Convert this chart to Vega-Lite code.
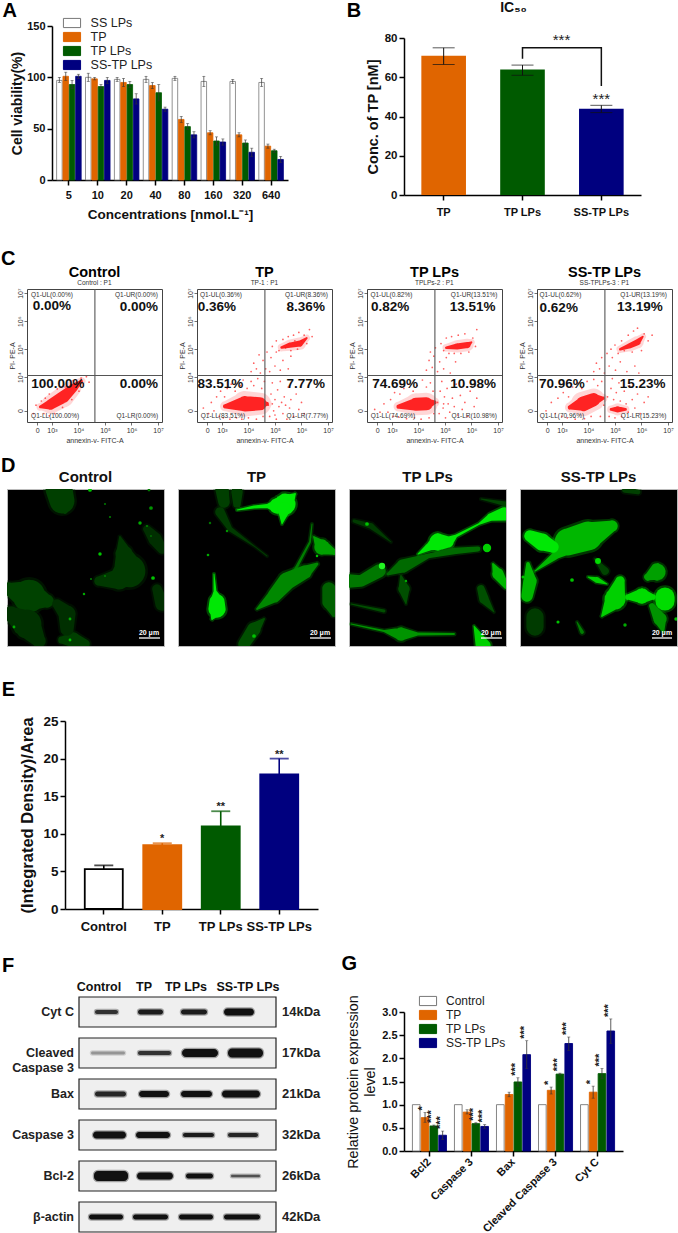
{
"$schema":"https://vega.github.io/schema/vega-lite/v6.json",
"padding":{"left":0,"top":1,"right":0,"bottom":0},
"resolve":{"scale":{"fill":"independent","stroke":"independent","color":"independent","size":"independent","opacity":"independent","xOffset":"independent"},"legend":{"fill":"independent","stroke":"independent","color":"independent","size":"independent"}},
"config":{"font":"Liberation Sans","view":{"stroke":null},"concat":{"spacing":0},
"axis":{"grid":false,"labelOverlap":false,"tickCount":12,"labelFont":"Liberation Sans","titleFont":"Liberation Sans","labelFontWeight":"bold","titleFontWeight":"bold","domainColor":"#000","tickColor":"#000","labelColor":"#111","titleColor":"#111","domainWidth":1.5,"tickWidth":1.5,"tickSize":5,"labelAngle":0}},
"datasets":{
"a":[
{"c":"5","g":"SS LPs","m":97,"l":95,"h":100},{"c":"5","g":"TP","m":101,"l":97,"h":105},{"c":"5","g":"TP LPs","m":93,"l":89,"h":97},{"c":"5","g":"SS-TP LPs","m":101,"l":99,"h":103},
{"c":"10","g":"SS LPs","m":100,"l":96,"h":104},{"c":"10","g":"TP","m":98.5,"l":97.5,"h":100},{"c":"10","g":"TP LPs","m":91,"l":89,"h":93},{"c":"10","g":"SS-TP LPs","m":97,"l":94,"h":100},
{"c":"20","g":"SS LPs","m":98,"l":96,"h":100},{"c":"20","g":"TP","m":95,"l":91,"h":99},{"c":"20","g":"TP LPs","m":93,"l":90,"h":96},{"c":"20","g":"SS-TP LPs","m":79,"l":74,"h":84},
{"c":"40","g":"SS LPs","m":98,"l":95,"h":101},{"c":"40","g":"TP","m":92,"l":89,"h":95},{"c":"40","g":"TP LPs","m":85,"l":77,"h":93},{"c":"40","g":"SS-TP LPs","m":69,"l":67,"h":71},
{"c":"80","g":"SS LPs","m":99,"l":97,"h":101},{"c":"80","g":"TP","m":59,"l":56,"h":62},{"c":"80","g":"TP LPs","m":52,"l":49,"h":55},{"c":"80","g":"SS-TP LPs","m":44,"l":41,"h":47},
{"c":"160","g":"SS LPs","m":96,"l":91,"h":101},{"c":"160","g":"TP","m":46,"l":44,"h":48},{"c":"160","g":"TP LPs","m":38,"l":34,"h":42},{"c":"160","g":"SS-TP LPs","m":37,"l":34,"h":40},
{"c":"320","g":"SS LPs","m":96,"l":94,"h":98},{"c":"320","g":"TP","m":44,"l":42,"h":46},{"c":"320","g":"TP LPs","m":36,"l":33,"h":39},{"c":"320","g":"SS-TP LPs","m":27,"l":23,"h":31},
{"c":"640","g":"SS LPs","m":95,"l":91,"h":99},{"c":"640","g":"TP","m":33,"l":31,"h":35},{"c":"640","g":"TP LPs","m":28.5,"l":27,"h":30},{"c":"640","g":"SS-TP LPs","m":20,"l":17,"h":23}],
"b":[{"g":"TP","m":71,"l":66.5,"h":75},{"g":"TP LPs","m":64,"l":61,"h":66.2},{"g":"SS-TP LPs","m":44,"l":42,"h":45.7}],
"bracket":[{"g":"TP LPs","y":69.4,"s":1},{"g":"TP LPs","y":75,"s":2},{"g":"SS-TP LPs","y":75,"s":3},{"g":"SS-TP LPs","y":55.5,"s":4}],
"e":[{"g":"Control","m":5.3,"h":5.8,"st":""},{"g":"TP","m":8.5,"h":8.75,"st":"*"},{"g":"TP LPs","m":11,"h":13,"st":"**"},{"g":"SS-TP LPs","m":17.9,"h":20,"st":"**"}],
"g":[
{"c":"Bcl2","g":"Control","m":1,"l":1,"h":1,"st":""},{"c":"Bcl2","g":"TP","m":0.72,"l":0.62,"h":0.83,"st":"*"},{"c":"Bcl2","g":"TP LPs","m":0.54,"l":0.52,"h":0.56,"st":"***"},{"c":"Bcl2","g":"SS-TP LPs","m":0.34,"l":0.25,"h":0.43,"st":"***"},
{"c":"Caspase 3","g":"Control","m":1,"l":1,"h":1,"st":""},{"c":"Caspase 3","g":"TP","m":0.84,"l":0.8,"h":0.89,"st":""},{"c":"Caspase 3","g":"TP LPs","m":0.59,"l":0.57,"h":0.61,"st":"***"},{"c":"Caspase 3","g":"SS-TP LPs","m":0.53,"l":0.49,"h":0.57,"st":"***"},
{"c":"Bax","g":"Control","m":1,"l":1,"h":1,"st":""},{"c":"Bax","g":"TP","m":1.22,"l":1.17,"h":1.27,"st":""},{"c":"Bax","g":"TP LPs","m":1.49,"l":1.4,"h":1.58,"st":"***"},{"c":"Bax","g":"SS-TP LPs","m":2.08,"l":1.78,"h":2.38,"st":"***"},
{"c":"Cleaved Caspase 3","g":"Control","m":1,"l":1,"h":1,"st":""},{"c":"Cleaved Caspase 3","g":"TP","m":1.31,"l":1.23,"h":1.38,"st":"*"},{"c":"Cleaved Caspase 3","g":"TP LPs","m":1.66,"l":1.64,"h":1.68,"st":"***"},{"c":"Cleaved Caspase 3","g":"SS-TP LPs","m":2.32,"l":2.17,"h":2.46,"st":"***"},
{"c":"Cyt C","g":"Control","m":1,"l":1,"h":1,"st":""},{"c":"Cyt C","g":"TP","m":1.27,"l":1.14,"h":1.4,"st":"*"},{"c":"Cyt C","g":"TP LPs","m":1.67,"l":1.56,"h":1.78,"st":"***"},{"c":"Cyt C","g":"SS-TP LPs","m":2.59,"l":2.32,"h":2.85,"st":"***"}],
"boxes":[{"r":"Cyt C","label":"Cyt C","kda":"14kDa"},{"r":"Cleaved","label":"Cleaved|Caspase 3","kda":"17kDa"},{"r":"Bax","label":"Bax","kda":"21kDa"},{"r":"Caspase 3","label":"Caspase 3","kda":"32kDa"},{"r":"Bcl-2","label":"Bcl-2","kda":"26kDa"},{"r":"actin","label":"β-actin","kda":"42kDa"}],
"blots":[
{"r":"Cyt C","a":16,"b":39,"t":4,"o":0.85},{"r":"Cyt C","a":59,"b":84,"t":5,"o":0.95},{"r":"Cyt C","a":102,"b":128,"t":5,"o":0.95},{"r":"Cyt C","a":145,"b":175,"t":7,"o":1},
{"r":"Cleaved","a":12,"b":46,"t":3,"o":0.4},{"r":"Cleaved","a":59,"b":92,"t":4,"o":0.85},{"r":"Cleaved","a":103,"b":139,"t":8,"o":1},{"r":"Cleaved","a":149,"b":184,"t":9,"o":1},
{"r":"Bax","a":16,"b":47,"t":5,"o":0.9},{"r":"Bax","a":60,"b":90,"t":6,"o":1},{"r":"Bax","a":102,"b":133,"t":6,"o":1},{"r":"Bax","a":143,"b":181,"t":7,"o":1},
{"r":"Caspase 3","a":14,"b":47,"t":7,"o":1},{"r":"Caspase 3","a":57,"b":91,"t":6,"o":1},{"r":"Caspase 3","a":104,"b":135,"t":4,"o":0.95},{"r":"Caspase 3","a":149,"b":179,"t":4,"o":0.9},
{"r":"Bcl-2","a":15,"b":49,"t":10,"o":1},{"r":"Bcl-2","a":58,"b":94,"t":7,"o":1},{"r":"Bcl-2","a":107,"b":134,"t":5,"o":1},{"r":"Bcl-2","a":152,"b":181,"t":2.5,"o":0.7},
{"r":"actin","a":10,"b":44,"t":5,"o":1},{"r":"actin","a":54,"b":89,"t":5,"o":1},{"r":"actin","a":100,"b":134,"t":5,"o":1},{"r":"actin","a":145,"b":181,"t":5,"o":1}]
},
"vconcat":[
{"bounds":"flush","resolve":{"scale":{"fill":"independent","stroke":"independent","color":"independent","xOffset":"independent"},"legend":{"fill":"independent","stroke":"independent","color":"independent"}},"hconcat":[
 {"width":52,"height":1,"data":{"values":[]},"mark":"point"},
 {"width":236,"height":154,"data":{"name":"a"},
  "encoding":{"x":{"field":"c","type":"nominal","scale":{"domain":["5","10","20","40","80","160","320","640"],"paddingInner":0.15,"paddingOuter":0.16},"axis":{"title":"Concentrations [nmol.L⁻¹]","titleFontSize":13.5,"titlePadding":7,"labelFontSize":11,"labelPadding":4}},
   "xOffset":{"field":"g","type":"nominal","scale":{"domain":["SS LPs","TP","TP LPs","SS-TP LPs"],"paddingInner":0.13}}},
  "layer":[
  {"mark":{"type":"bar","strokeWidth":0.8},"encoding":{"y":{"field":"m","type":"quantitative","scale":{"domain":[0,150],"nice":false},"axis":{"values":[0,50,100,150],"title":"Cell viability(%)","titleFontSize":14,"titlePadding":2,"labelFontSize":11}},
    "fill":{"field":"g","type":"nominal","scale":{"domain":["SS LPs","TP","TP LPs","SS-TP LPs"],"range":["#ffffff","#e06500","#005a00","#00007f"]},"legend":{"orient":"none","legendX":13,"legendY":-10,"title":null,"symbolType":"M-1.4,-0.75H1.4V0.75H-1.4Z","symbolSize":150,"labelFontSize":12.5,"labelFontWeight":"normal","labelOffset":11.6,"rowPadding":-1.7,"labelColor":"#222","symbolStrokeWidth":1}},
    "stroke":{"field":"g","type":"nominal","scale":{"domain":["SS LPs","TP","TP LPs","SS-TP LPs"],"range":["#777777","#e06500","#005a00","#00007f"]},"legend":{"orient":"none","legendX":13,"legendY":-10,"title":null,"symbolType":"M-1.4,-0.75H1.4V0.75H-1.4Z","symbolSize":150,"labelFontSize":12.5,"labelFontWeight":"normal","labelOffset":11.6,"rowPadding":-1.7,"labelColor":"#222","symbolStrokeWidth":1}}}},
  {"mark":{"type":"rule","color":"#333","strokeWidth":0.7},"encoding":{"y":{"field":"l","type":"quantitative"},"y2":{"field":"h"}}},
  {"mark":{"type":"tick","color":"#333","size":3,"thickness":0.7},"encoding":{"y":{"field":"h","type":"quantitative"}}},
  {"mark":{"type":"tick","color":"#333","size":3,"thickness":0.7},"encoding":{"y":{"field":"l","type":"quantitative"}}},
  {"data":{"values":[{"t":"A"}]},"mark":{"type":"text","fontSize":20,"fontWeight":"bold","align":"left","dx":-54,"dy":-15,"color":"#000"},"encoding":{"xOffset":{"value":0},"x":{"datum":"5"},"y":{"datum":150},"text":{"field":"t"}}}
  ]},
 {"width":116,"height":1,"data":{"values":[]},"mark":"point"},
 {"bounds":"flush","resolve":{"scale":{"color":"independent"}},"vconcat":[
  {"width":1,"height":12,"data":{"values":[]},"mark":"point"},
  {"width":237,"height":157,"data":{"name":"b"},
   "encoding":{"x":{"field":"g","type":"nominal","scale":{"domain":["TP","TP LPs","SS-TP LPs"],"paddingInner":0.434,"paddingOuter":0.22},"axis":{"title":null,"labelFontSize":11,"labelPadding":6}}},
   "layer":[
   {"mark":{"type":"bar"},"encoding":{"y":{"field":"m","type":"quantitative","scale":{"domain":[0,80],"nice":false},"axis":{"values":[0,20,40,60,80],"title":"Conc. of TP [nM]","titleFontSize":14.5,"titlePadding":4,"labelFontSize":11.5}},
     "color":{"field":"g","type":"nominal","scale":{"domain":["TP","TP LPs","SS-TP LPs"],"range":["#e06500","#005a00","#00007f"]},"legend":null}}},
   {"mark":{"type":"rule","color":"#111","strokeWidth":1},"encoding":{"y":{"field":"l","type":"quantitative"},"y2":{"field":"h"}}},
   {"mark":{"type":"tick","color":"#111","size":22,"thickness":1},"encoding":{"y":{"field":"h","type":"quantitative"}}},
   {"mark":{"type":"tick","color":"#111","size":22,"thickness":1},"encoding":{"y":{"field":"l","type":"quantitative"}}},
   {"data":{"name":"bracket"},"mark":{"type":"line","color":"#111","strokeWidth":1.5},"encoding":{"y":{"field":"y","type":"quantitative"},"order":{"field":"s"}}},
   {"data":{"values":[{"t":"***"}]},"mark":{"type":"text","fontSize":15,"dx":39,"baseline":"middle","color":"#222"},"encoding":{"x":{"datum":"TP LPs"},"y":{"datum":79},"text":{"field":"t"}}},
   {"data":{"values":[{"t":"***"}]},"mark":{"type":"text","fontSize":15,"baseline":"middle","color":"#222"},"encoding":{"x":{"datum":"SS-TP LPs"},"y":{"datum":49},"text":{"field":"t"}}},
   {"data":{"values":[{"t":"IC₅₀"}]},"mark":{"type":"text","fontSize":14,"fontWeight":"bold","dx":-9,"dy":-30,"color":"#111"},"encoding":{"x":{"datum":"TP LPs"},"y":{"datum":80},"text":{"field":"t"}}},
   {"data":{"values":[{"t":"B"}]},"mark":{"type":"text","fontSize":20,"fontWeight":"bold","align":"left","dx":-97,"dy":-27,"color":"#000"},"encoding":{"x":{"datum":"TP"},"y":{"datum":80},"text":{"field":"t"}}}
   ]}
 ]}
]},
{"width":1,"height":28,"data":{"values":[]},"mark":"point"},
{"bounds":"flush","hconcat":[
 {"width":27,"height":1,"data":{"values":[]},"mark":"point","title":{"text":"C","anchor":"start","frame":"group","fontSize":20,"fontWeight":"bold","offset":20,"color":"#000","dx":1}},
 {"bounds":"flush","spacing":35,
  "data":{"values":[
{"p":"Control","k":"sub","t":"Control : P1"},{"p":"TP","k":"sub","t":"TP-1 : P1"},{"p":"TP LPs","k":"sub","t":"TPLPs-2 : P1"},{"p":"SS-TP LPs","k":"sub","t":"SS-TPLPs-3 : P1"},
{"p":"Control","k":"s","t":"Q1-UL(0.00%)","x":3,"y":6.93},{"p":"Control","k":"s","t":"Q1-UR(0.00%)","x":6.19,"y":6.93},{"p":"Control","k":"s","t":"Q1-LL(100.00%)","x":3.12,"y":2.62},{"p":"Control","k":"s","t":"Q1-LR(0.00%)","x":6.22,"y":2.62},
{"p":"TP","k":"s","t":"Q1-UL(0.36%)","x":2.96,"y":6.93},{"p":"TP","k":"s","t":"Q1-UR(8.36%)","x":6.19,"y":6.93},{"p":"TP","k":"s","t":"Q1-LL(83.51%)","x":3.04,"y":2.62},{"p":"TP","k":"s","t":"Q1-LR(7.77%)","x":6.22,"y":2.62},
{"p":"TP LPs","k":"s","t":"Q1-UL(0.82%)","x":2.98,"y":6.93},{"p":"TP LPs","k":"s","t":"Q1-UR(13.51%)","x":6.1,"y":6.93},{"p":"TP LPs","k":"s","t":"Q1-LL(74.69%)","x":3.04,"y":2.62},{"p":"TP LPs","k":"s","t":"Q1-LR(10.98%)","x":6.1,"y":2.62},
{"p":"SS-TP LPs","k":"s","t":"Q1-UL(0.62%)","x":2.94,"y":6.93},{"p":"SS-TP LPs","k":"s","t":"Q1-UR(13.19%)","x":6.08,"y":6.93},{"p":"SS-TP LPs","k":"s","t":"Q1-LL(70.96%)","x":3,"y":2.62},{"p":"SS-TP LPs","k":"s","t":"Q1-LR(15.23%)","x":6.08,"y":2.62},
{"p":"Control","k":"b","t":"0.00%","x":3,"y":6.54},{"p":"Control","k":"b","t":"0.00%","x":6.28,"y":6.5},{"p":"Control","k":"b","t":"100.00%","x":3.22,"y":3.76},{"p":"Control","k":"b","t":"0.00%","x":6.28,"y":3.76},
{"p":"TP","k":"b","t":"0.36%","x":2.81,"y":6.5},{"p":"TP","k":"b","t":"8.36%","x":6.16,"y":6.5},{"p":"TP","k":"b","t":"83.51%","x":2.94,"y":3.76},{"p":"TP","k":"b","t":"7.77%","x":6.16,"y":3.76},
{"p":"TP LPs","k":"b","t":"0.82%","x":2.93,"y":6.5},{"p":"TP LPs","k":"b","t":"13.51%","x":6.04,"y":6.5},{"p":"TP LPs","k":"b","t":"74.69%","x":3.12,"y":3.76},{"p":"TP LPs","k":"b","t":"10.98%","x":6.06,"y":3.76},
{"p":"SS-TP LPs","k":"b","t":"0.62%","x":2.88,"y":6.48},{"p":"SS-TP LPs","k":"b","t":"13.19%","x":5.94,"y":6.5},{"p":"SS-TP LPs","k":"b","t":"70.96%","x":3,"y":3.76},{"p":"SS-TP LPs","k":"b","t":"15.23%","x":6.04,"y":3.76},
{"p":"Control","k":"t","id":1,"s":1,"x":2.56,"y":2.94,"w":3},{"p":"Control","k":"t","id":1,"s":2,"x":2.94,"y":3.02,"w":12},{"p":"Control","k":"t","id":1,"s":3,"x":3.44,"y":3.3,"w":14},{"p":"Control","k":"t","id":1,"s":4,"x":3.81,"y":3.62,"w":10},{"p":"Control","k":"t","id":1,"s":5,"x":4.12,"y":3.86,"w":3},
{"p":"TP","k":"t","id":1,"s":1,"x":3.12,"y":2.96,"w":5},{"p":"TP","k":"t","id":1,"s":2,"x":3.87,"y":3.05,"w":18},{"p":"TP","k":"t","id":1,"s":3,"x":4.44,"y":3.05,"w":15},{"p":"TP","k":"t","id":1,"s":4,"x":4.69,"y":3.05,"w":5},
{"p":"TP","k":"t","id":2,"s":1,"x":5.25,"y":5.06,"w":3},{"p":"TP","k":"t","id":2,"s":2,"x":5.55,"y":5.14,"w":6},{"p":"TP","k":"t","id":2,"s":3,"x":5.94,"y":5.2,"w":7},{"p":"TP","k":"t","id":2,"s":4,"x":6.2,"y":5.4,"w":2},
{"p":"TP LPs","k":"t","id":1,"s":1,"x":3.25,"y":2.95,"w":5},{"p":"TP LPs","k":"t","id":1,"s":2,"x":3.9,"y":3.03,"w":15},{"p":"TP LPs","k":"t","id":1,"s":3,"x":4.3,"y":3.05,"w":15},{"p":"TP LPs","k":"t","id":1,"s":4,"x":4.6,"y":3.1,"w":5},
{"p":"TP LPs","k":"t","id":2,"s":1,"x":5.05,"y":5.05,"w":3},{"p":"TP LPs","k":"t","id":2,"s":2,"x":5.45,"y":5.1,"w":7},{"p":"TP LPs","k":"t","id":2,"s":3,"x":5.85,"y":5.15,"w":7},{"p":"TP LPs","k":"t","id":2,"s":4,"x":6,"y":5.25,"w":2},
{"p":"SS-TP LPs","k":"t","id":1,"s":1,"x":3.3,"y":2.92,"w":5},{"p":"SS-TP LPs","k":"t","id":1,"s":2,"x":3.8,"y":3.05,"w":17},{"p":"SS-TP LPs","k":"t","id":1,"s":3,"x":4.2,"y":3.2,"w":15},{"p":"SS-TP LPs","k":"t","id":1,"s":4,"x":4.55,"y":3.25,"w":4},
{"p":"SS-TP LPs","k":"t","id":2,"s":1,"x":5.2,"y":5,"w":3},{"p":"SS-TP LPs","k":"t","id":2,"s":2,"x":5.55,"y":5.12,"w":6},{"p":"SS-TP LPs","k":"t","id":2,"s":3,"x":5.85,"y":5.25,"w":7},{"p":"SS-TP LPs","k":"t","id":2,"s":4,"x":6.05,"y":5.45,"w":2},
{"p":"SS-TP LPs","k":"t","id":3,"s":1,"x":4.85,"y":2.85,"w":3},{"p":"SS-TP LPs","k":"t","id":3,"s":2,"x":5.1,"y":2.85,"w":7},{"p":"SS-TP LPs","k":"t","id":3,"s":3,"x":5.4,"y":2.85,"w":3},
{"p":"Control","k":"d","x":2.3,"y":2.7},{"p":"Control","k":"d","x":2.4,"y":3},{"p":"Control","k":"d","x":2.6,"y":3.15},{"p":"Control","k":"d","x":2.7,"y":2.7},{"p":"Control","k":"d","x":2.75,"y":3.25},{"p":"Control","k":"d","x":2.9,"y":2.62},{"p":"Control","k":"d","x":2.9,"y":3.4},{"p":"Control","k":"d","x":3.1,"y":2.7},{"p":"Control","k":"d","x":3.2,"y":3.58},{"p":"Control","k":"d","x":3.4,"y":2.92},{"p":"Control","k":"d","x":3.5,"y":3.65},{"p":"Control","k":"d","x":3.75,"y":3.2},{"p":"Control","k":"d","x":3.8,"y":3.88},{"p":"Control","k":"d","x":4.02,"y":3.5},{"p":"Control","k":"d","x":4.1,"y":3.97},{"p":"Control","k":"d","x":4.3,"y":4.02},{"p":"Control","k":"d","x":4.4,"y":3.82},
{"p":"TP","k":"d","x":2.3,"y":2.9},{"p":"TP","k":"d","x":2.5,"y":2.7},{"p":"TP","k":"d","x":2.6,"y":3.1},{"p":"TP","k":"d","x":2.7,"y":2.8},{"p":"TP","k":"d","x":2.8,"y":3.3},{"p":"TP","k":"d","x":2.9,"y":2.6},{"p":"TP","k":"d","x":2.95,"y":3.5},{"p":"TP","k":"d","x":3.05,"y":2.55},{"p":"TP","k":"d","x":3.1,"y":3.3},{"p":"TP","k":"d","x":3.2,"y":3.6},{"p":"TP","k":"d","x":3.3,"y":2.5},{"p":"TP","k":"d","x":3.35,"y":3.75},{"p":"TP","k":"d","x":3.5,"y":3.5},{"p":"TP","k":"d","x":3.55,"y":2.55},{"p":"TP","k":"d","x":3.7,"y":3.7},{"p":"TP","k":"d","x":3.75,"y":2.5},{"p":"TP","k":"d","x":3.8,"y":3.9},{"p":"TP","k":"d","x":3.95,"y":3.6},{"p":"TP","k":"d","x":4,"y":2.55},{"p":"TP","k":"d","x":4.1,"y":3.85},{"p":"TP","k":"d","x":4.2,"y":3.7},{"p":"TP","k":"d","x":4.3,"y":2.5},{"p":"TP","k":"d","x":4.35,"y":3.95},{"p":"TP","k":"d","x":4.5,"y":3.6},{"p":"TP","k":"d","x":4.55,"y":2.6},{"p":"TP","k":"d","x":4.6,"y":3.85},
{"p":"TP","k":"d","x":4.75,"y":3},{"p":"TP","k":"d","x":4.8,"y":2.6},{"p":"TP","k":"d","x":4.85,"y":3.4},{"p":"TP","k":"d","x":4.9,"y":3.8},{"p":"TP","k":"d","x":4.95,"y":2.8},{"p":"TP","k":"d","x":5,"y":3.2},{"p":"TP","k":"d","x":5.05,"y":2.5},{"p":"TP","k":"d","x":5.1,"y":3.55},{"p":"TP","k":"d","x":5.15,"y":2.95},{"p":"TP","k":"d","x":5.2,"y":3.85},{"p":"TP","k":"d","x":5.3,"y":2.7},{"p":"TP","k":"d","x":5.35,"y":3.3},{"p":"TP","k":"d","x":5.4,"y":3},{"p":"TP","k":"d","x":5.45,"y":2.5},{"p":"TP","k":"d","x":5.5,"y":3.65},{"p":"TP","k":"d","x":5.55,"y":2.9},{"p":"TP","k":"d","x":5.6,"y":3.2},{"p":"TP","k":"d","x":5.7,"y":2.6},{"p":"TP","k":"d","x":5.8,"y":3.4},{"p":"TP","k":"d","x":5.9,"y":2.85},{"p":"TP","k":"d","x":6,"y":3.1},{"p":"TP","k":"d","x":6.1,"y":2.7},{"p":"TP","k":"d","x":5.25,"y":3.1},{"p":"TP","k":"d","x":4.9,"y":3.05},{"p":"TP","k":"d","x":5,"y":2.65},
{"p":"TP","k":"d","x":4.1,"y":4.2},{"p":"TP","k":"d","x":4.2,"y":4.5},{"p":"TP","k":"d","x":4.3,"y":4.3},{"p":"TP","k":"d","x":4.4,"y":4.8},{"p":"TP","k":"d","x":4.45,"y":4.15},{"p":"TP","k":"d","x":4.55,"y":4.6},{"p":"TP","k":"d","x":4.65,"y":4.3},{"p":"TP","k":"d","x":4.7,"y":4.9},{"p":"TP","k":"d","x":4.8,"y":4.2},{"p":"TP","k":"d","x":4.85,"y":4.7},{"p":"TP","k":"d","x":5,"y":4.4},{"p":"TP","k":"d","x":5.05,"y":4.9},{"p":"TP","k":"d","x":5.2,"y":4.25},{"p":"TP","k":"d","x":5.3,"y":4.6},{"p":"TP","k":"d","x":5.5,"y":4.3},{"p":"TP","k":"d","x":5.6,"y":4.75},
{"p":"TP","k":"d","x":4.9,"y":5.1},{"p":"TP","k":"d","x":5.05,"y":5.3},{"p":"TP","k":"d","x":5.15,"y":4.95},{"p":"TP","k":"d","x":5.3,"y":5.35},{"p":"TP","k":"d","x":5.4,"y":5.05},{"p":"TP","k":"d","x":5.5,"y":5.45},{"p":"TP","k":"d","x":5.6,"y":4.95},{"p":"TP","k":"d","x":5.7,"y":5.5},{"p":"TP","k":"d","x":5.75,"y":5.3},{"p":"TP","k":"d","x":5.85,"y":5},{"p":"TP","k":"d","x":5.9,"y":5.6},{"p":"TP","k":"d","x":6,"y":5.3},{"p":"TP","k":"d","x":6.1,"y":5.5},{"p":"TP","k":"d","x":6.2,"y":5.2},{"p":"TP","k":"d","x":6.3,"y":5.7},{"p":"TP","k":"d","x":6.4,"y":5.45},
{"p":"TP LPs","k":"d","x":2.35,"y":2.85},{"p":"TP LPs","k":"d","x":2.55,"y":2.75},{"p":"TP LPs","k":"d","x":2.7,"y":3.05},{"p":"TP LPs","k":"d","x":2.85,"y":2.75},{"p":"TP LPs","k":"d","x":2.95,"y":3.2},{"p":"TP LPs","k":"d","x":3.05,"y":2.6},{"p":"TP LPs","k":"d","x":3.1,"y":3.45},{"p":"TP LPs","k":"d","x":3.25,"y":2.58},{"p":"TP LPs","k":"d","x":3.3,"y":3.4},{"p":"TP LPs","k":"d","x":3.45,"y":3.6},{"p":"TP LPs","k":"d","x":3.55,"y":2.52},{"p":"TP LPs","k":"d","x":3.6,"y":3.75},{"p":"TP LPs","k":"d","x":3.8,"y":3.5},{"p":"TP LPs","k":"d","x":3.85,"y":2.55},{"p":"TP LPs","k":"d","x":3.95,"y":3.7},{"p":"TP LPs","k":"d","x":4.1,"y":2.5},{"p":"TP LPs","k":"d","x":4.15,"y":3.9},{"p":"TP LPs","k":"d","x":4.3,"y":3.65},{"p":"TP LPs","k":"d","x":4.4,"y":2.55},{"p":"TP LPs","k":"d","x":4.45,"y":3.8},{"p":"TP LPs","k":"d","x":4.55,"y":3.5},{"p":"TP LPs","k":"d","x":4.58,"y":2.7},
{"p":"TP LPs","k":"d","x":4.72,"y":3.1},{"p":"TP LPs","k":"d","x":4.78,"y":2.7},{"p":"TP LPs","k":"d","x":4.82,"y":3.5},{"p":"TP LPs","k":"d","x":4.88,"y":3.85},{"p":"TP LPs","k":"d","x":4.93,"y":2.9},{"p":"TP LPs","k":"d","x":4.98,"y":3.3},{"p":"TP LPs","k":"d","x":5.02,"y":2.55},{"p":"TP LPs","k":"d","x":5.08,"y":3.6},{"p":"TP LPs","k":"d","x":5.12,"y":3.05},{"p":"TP LPs","k":"d","x":5.18,"y":2.75},{"p":"TP LPs","k":"d","x":5.28,"y":3.25},{"p":"TP LPs","k":"d","x":5.35,"y":2.95},{"p":"TP LPs","k":"d","x":5.42,"y":3.75},{"p":"TP LPs","k":"d","x":5.48,"y":2.65},{"p":"TP LPs","k":"d","x":5.58,"y":3.35},{"p":"TP LPs","k":"d","x":5.65,"y":2.85},{"p":"TP LPs","k":"d","x":5.75,"y":3.1},{"p":"TP LPs","k":"d","x":5.85,"y":2.6},{"p":"TP LPs","k":"d","x":5.95,"y":3.5},{"p":"TP LPs","k":"d","x":6.1,"y":2.95},{"p":"TP LPs","k":"d","x":6.2,"y":3.25},{"p":"TP LPs","k":"d","x":4.95,"y":3.05},
{"p":"TP LPs","k":"d","x":4.3,"y":4.25},{"p":"TP LPs","k":"d","x":4.4,"y":4.6},{"p":"TP LPs","k":"d","x":4.45,"y":4.9},{"p":"TP LPs","k":"d","x":4.52,"y":4.35},{"p":"TP LPs","k":"d","x":4.58,"y":4.75},{"p":"TP LPs","k":"d","x":4.64,"y":5.05},{"p":"TP LPs","k":"d","x":4.72,"y":4.2},{"p":"TP LPs","k":"d","x":4.8,"y":4.55},{"p":"TP LPs","k":"d","x":4.95,"y":4.3},{"p":"TP LPs","k":"d","x":5.05,"y":4.7},{"p":"TP LPs","k":"d","x":5.2,"y":4.15},{"p":"TP LPs","k":"d","x":5.4,"y":4.55},
{"p":"TP LPs","k":"d","x":4.85,"y":5.2},{"p":"TP LPs","k":"d","x":4.95,"y":4.95},{"p":"TP LPs","k":"d","x":5.05,"y":5.4},{"p":"TP LPs","k":"d","x":5.15,"y":4.85},{"p":"TP LPs","k":"d","x":5.25,"y":5.45},{"p":"TP LPs","k":"d","x":5.35,"y":4.85},{"p":"TP LPs","k":"d","x":5.5,"y":5.5},{"p":"TP LPs","k":"d","x":5.6,"y":4.85},{"p":"TP LPs","k":"d","x":5.75,"y":5.55},{"p":"TP LPs","k":"d","x":5.9,"y":4.9},{"p":"TP LPs","k":"d","x":6.05,"y":5.4},{"p":"TP LPs","k":"d","x":6.15,"y":5.1},{"p":"TP LPs","k":"d","x":6.2,"y":5.7},
{"p":"SS-TP LPs","k":"d","x":2.4,"y":2.8},{"p":"SS-TP LPs","k":"d","x":2.6,"y":3.1},{"p":"SS-TP LPs","k":"d","x":2.75,"y":2.7},{"p":"SS-TP LPs","k":"d","x":2.85,"y":3.25},{"p":"SS-TP LPs","k":"d","x":3,"y":2.6},{"p":"SS-TP LPs","k":"d","x":3.05,"y":3.45},{"p":"SS-TP LPs","k":"d","x":3.2,"y":2.55},{"p":"SS-TP LPs","k":"d","x":3.25,"y":3.3},{"p":"SS-TP LPs","k":"d","x":3.4,"y":3.65},{"p":"SS-TP LPs","k":"d","x":3.5,"y":2.5},{"p":"SS-TP LPs","k":"d","x":3.6,"y":3.8},{"p":"SS-TP LPs","k":"d","x":3.75,"y":3.6},{"p":"SS-TP LPs","k":"d","x":3.85,"y":2.52},{"p":"SS-TP LPs","k":"d","x":3.95,"y":3.85},{"p":"SS-TP LPs","k":"d","x":4.1,"y":2.6},{"p":"SS-TP LPs","k":"d","x":4.2,"y":3.92},{"p":"SS-TP LPs","k":"d","x":4.35,"y":3.7},{"p":"SS-TP LPs","k":"d","x":4.45,"y":2.6},{"p":"SS-TP LPs","k":"d","x":4.5,"y":3.85},{"p":"SS-TP LPs","k":"d","x":4.58,"y":3},
{"p":"SS-TP LPs","k":"d","x":4.72,"y":3.3},{"p":"SS-TP LPs","k":"d","x":4.78,"y":2.6},{"p":"SS-TP LPs","k":"d","x":4.85,"y":3.6},{"p":"SS-TP LPs","k":"d","x":4.9,"y":3.95},{"p":"SS-TP LPs","k":"d","x":4.95,"y":3.2},{"p":"SS-TP LPs","k":"d","x":5,"y":2.55},{"p":"SS-TP LPs","k":"d","x":5.05,"y":3.45},{"p":"SS-TP LPs","k":"d","x":5.15,"y":3.8},{"p":"SS-TP LPs","k":"d","x":5.2,"y":3.15},{"p":"SS-TP LPs","k":"d","x":5.25,"y":2.6},{"p":"SS-TP LPs","k":"d","x":5.35,"y":3.5},{"p":"SS-TP LPs","k":"d","x":5.42,"y":3.05},{"p":"SS-TP LPs","k":"d","x":5.5,"y":2.75},{"p":"SS-TP LPs","k":"d","x":5.55,"y":3.7},{"p":"SS-TP LPs","k":"d","x":5.65,"y":3.2},{"p":"SS-TP LPs","k":"d","x":5.75,"y":2.9},{"p":"SS-TP LPs","k":"d","x":5.85,"y":3.4},{"p":"SS-TP LPs","k":"d","x":5.95,"y":2.7},{"p":"SS-TP LPs","k":"d","x":6.1,"y":3.1},{"p":"SS-TP LPs","k":"d","x":6.25,"y":3.3},
{"p":"SS-TP LPs","k":"d","x":4.2,"y":4.2},{"p":"SS-TP LPs","k":"d","x":4.3,"y":4.5},{"p":"SS-TP LPs","k":"d","x":4.42,"y":4.3},{"p":"SS-TP LPs","k":"d","x":4.5,"y":4.7},{"p":"SS-TP LPs","k":"d","x":4.6,"y":4.15},{"p":"SS-TP LPs","k":"d","x":4.7,"y":4.85},{"p":"SS-TP LPs","k":"d","x":4.78,"y":4.4},{"p":"SS-TP LPs","k":"d","x":4.9,"y":4.7},{"p":"SS-TP LPs","k":"d","x":5.02,"y":4.25},{"p":"SS-TP LPs","k":"d","x":5.2,"y":4.55},{"p":"SS-TP LPs","k":"d","x":5.45,"y":4.2},{"p":"SS-TP LPs","k":"d","x":5.75,"y":4.4},{"p":"SS-TP LPs","k":"d","x":5.9,"y":4.15},
{"p":"SS-TP LPs","k":"d","x":4.85,"y":5},{"p":"SS-TP LPs","k":"d","x":5,"y":5.15},{"p":"SS-TP LPs","k":"d","x":5.12,"y":4.85},{"p":"SS-TP LPs","k":"d","x":5.25,"y":5.3},{"p":"SS-TP LPs","k":"d","x":5.35,"y":4.95},{"p":"SS-TP LPs","k":"d","x":5.5,"y":5.5},{"p":"SS-TP LPs","k":"d","x":5.65,"y":4.9},{"p":"SS-TP LPs","k":"d","x":5.7,"y":5.65},{"p":"SS-TP LPs","k":"d","x":5.85,"y":5.75},{"p":"SS-TP LPs","k":"d","x":6,"y":4.95},{"p":"SS-TP LPs","k":"d","x":6.1,"y":5.55},{"p":"SS-TP LPs","k":"d","x":6.25,"y":5.3},{"p":"SS-TP LPs","k":"d","x":6.4,"y":5.5}
  ]},
  "facet":{"field":"p","type":"nominal","sort":["Control","TP","TP LPs","SS-TP LPs"],"header":{"title":null,"labelFontSize":14.5,"labelFontWeight":"bold","labelColor":"#000","labelPadding":0}},
  "resolve":{"axis":{"x":"independent","y":"independent"}},
  "spec":{"width":135,"height":133,"view":{"stroke":"#444","strokeWidth":1},
   "resolve":{"scale":{"size":"independent"}},
   "layer":[
   {"transform":[{"filter":"datum.k=='d'"}],"mark":{"type":"circle","size":3,"color":"#ff2a2a","opacity":0.75},
    "encoding":{"x":{"field":"x","type":"quantitative","scale":{"domain":[2.06,7.15],"nice":false,"zero":false},"axis":{"values":[2.44,3,4,5,6,7],"labelExpr":"datum.value<2.5?'0':datum.value==3?'10³':datum.value==4?'10⁴':datum.value==5?'10⁵':datum.value==6?'10⁶':'10⁷'","title":"annexin-v- FITC-A","titleFontSize":7,"titleFontWeight":"normal","titlePadding":3,"labelFontSize":7,"labelFontWeight":"normal","labelPadding":1,"tickSize":3,"tickWidth":0.7,"domain":false,"labelColor":"#333","titleColor":"#333","tickColor":"#333"}},
     "y":{"field":"y","type":"quantitative","scale":{"domain":[2.4,7.15],"nice":false,"zero":false},"axis":{"values":[2.81,4,5,6,7],"labelExpr":"datum.value<3?'0':datum.value==4?'10⁴':datum.value==5?'10⁵':datum.value==6?'10⁶':'10⁷'","title":"PI- PE-A","titleFontSize":7,"titleFontWeight":"normal","titlePadding":1,"labelFontSize":7,"labelFontWeight":"normal","labelAngle":-90,"labelAlign":"center","labelBaseline":"bottom","labelPadding":1,"tickSize":3,"tickWidth":0.7,"domain":false,"labelColor":"#333","titleColor":"#333","tickColor":"#333"}}}},
   {"transform":[{"filter":"datum.k=='t'"}],"mark":{"type":"trail","color":"#ff3030","opacity":0.2},
    "encoding":{"x":{"field":"x","type":"quantitative"},"y":{"field":"y","type":"quantitative"},"detail":{"field":"id"},"order":{"field":"s"},"size":{"field":"w","type":"quantitative","legend":null,"scale":{"domain":[0,30],"range":[4,40]}}}},
   {"transform":[{"filter":"datum.k=='t'"}],"mark":{"type":"trail","color":"#ff1010","opacity":0.9},
    "encoding":{"x":{"field":"x","type":"quantitative"},"y":{"field":"y","type":"quantitative"},"detail":{"field":"id"},"order":{"field":"s"},"size":{"field":"w","type":"quantitative","legend":null,"scale":{"domain":[0,30],"range":[0,26]}}}},
   {"transform":[{"filter":"datum.k=='sub'"}],"mark":{"type":"rule","color":"#555","strokeWidth":1.1},"encoding":{"x":{"datum":4.62}}},
   {"transform":[{"filter":"datum.k=='sub'"}],"mark":{"type":"rule","color":"#555","strokeWidth":1.1},"encoding":{"y":{"datum":4.06}}},
   {"transform":[{"filter":"datum.k=='sub'"}],"mark":{"type":"text","fontSize":6.5,"color":"#333","dy":-6},"encoding":{"x":{"datum":4.6},"y":{"datum":7.15},"text":{"field":"t"}}},
   {"transform":[{"filter":"datum.k=='s'"}],"mark":{"type":"text","fontSize":6.5,"color":"#333"},"encoding":{"x":{"field":"x","type":"quantitative"},"y":{"field":"y","type":"quantitative"},"text":{"field":"t"}}},
   {"transform":[{"filter":"datum.k=='b'"}],"mark":{"type":"text","fontSize":13.5,"fontWeight":"bold","color":"#111"},"encoding":{"x":{"field":"x","type":"quantitative"},"y":{"field":"y","type":"quantitative"},"text":{"field":"t"}}}
   ]}
 }
]},
{"width":1,"height":12,"data":{"values":[]},"mark":"point"},
{"bounds":"flush","hconcat":[
 {"width":7,"height":1,"data":{"values":[]},"mark":"point","title":{"text":"D","anchor":"start","frame":"group","fontSize":20,"fontWeight":"bold","offset":13,"color":"#000","dx":1}},
 {"bounds":"flush","spacing":14,
  "data":{"values":[
{"p":"Control","k":"b","t":"20 μm","x":132,"x2":153,"y":149},{"p":"TP","k":"b","t":"20 μm","x":132,"x2":153,"y":149},{"p":"TP LPs","k":"b","t":"20 μm","x":132,"x2":153,"y":149},{"p":"SS-TP LPs","k":"b","t":"20 μm","x":132,"x2":152,"y":149},
{"p":"Control","k":"c","id":"c1","s":1,"v":0.22,"x":52,"y":0,"w":28},{"p":"Control","k":"c","id":"c1","s":2,"v":0.22,"x":55,"y":12,"w":26},{"p":"Control","k":"c","id":"c1","s":3,"v":0.22,"x":58,"y":22,"w":6},
{"p":"Control","k":"c","id":"c2","s":1,"v":0.18,"x":113,"y":48,"w":2},{"p":"Control","k":"c","id":"c2","s":2,"v":0.18,"x":117,"y":65,"w":18},{"p":"Control","k":"c","id":"c2","s":3,"v":0.18,"x":122,"y":82,"w":34},{"p":"Control","k":"c","id":"c2","s":4,"v":0.18,"x":112,"y":90,"w":22},{"p":"Control","k":"c","id":"c2","s":5,"v":0.18,"x":92,"y":92,"w":10},
{"p":"Control","k":"c","id":"c3","s":1,"v":0.24,"x":2,"y":100,"w":14},{"p":"Control","k":"c","id":"c3","s":2,"v":0.24,"x":22,"y":107,"w":34},{"p":"Control","k":"c","id":"c3","s":3,"v":0.24,"x":40,"y":112,"w":14},
{"p":"Control","k":"c","id":"c4","s":1,"v":0.14,"x":4,"y":125,"w":16},{"p":"Control","k":"c","id":"c4","s":2,"v":0.14,"x":20,"y":135,"w":30},{"p":"Control","k":"c","id":"c4","s":3,"v":0.14,"x":32,"y":152,"w":14},
{"p":"Control","k":"c","id":"c5","s":1,"v":0.22,"x":55,"y":151,"w":8},{"p":"Control","k":"c","id":"c5","s":2,"v":0.22,"x":66,"y":151,"w":16},{"p":"Control","k":"c","id":"c5","s":3,"v":0.22,"x":78,"y":155,"w":10},
{"p":"Control","k":"c","id":"c6","s":1,"v":0.12,"x":50,"y":115,"w":10},{"p":"Control","k":"c","id":"c6","s":2,"v":0.12,"x":60,"y":125,"w":18},{"p":"Control","k":"c","id":"c6","s":3,"v":0.12,"x":60,"y":140,"w":14},
{"p":"Control","k":"c","id":"c7","s":1,"v":0.12,"x":140,"y":40,"w":8},{"p":"Control","k":"c","id":"c7","s":2,"v":0.12,"x":148,"y":50,"w":14},{"p":"Control","k":"c","id":"c7","s":3,"v":0.12,"x":155,"y":60,"w":10},
{"p":"Control","k":"c","id":"c8","s":1,"v":0.12,"x":150,"y":100,"w":10},{"p":"Control","k":"c","id":"c8","s":2,"v":0.12,"x":155,"y":115,"w":14},
{"p":"TP","k":"c","id":"t1","s":1,"v":0.22,"x":44,"y":0,"w":14},{"p":"TP","k":"c","id":"t1","s":2,"v":0.22,"x":46,"y":13,"w":12},
{"p":"TP","k":"c","id":"t2","s":1,"v":0.22,"x":59,"y":3,"w":12},{"p":"TP","k":"c","id":"t2","s":2,"v":0.22,"x":59,"y":15,"w":8},
{"p":"TP","k":"c","id":"t3","s":1,"v":0.2,"x":42,"y":23,"w":10},{"p":"TP","k":"c","id":"t3","s":2,"v":0.2,"x":52,"y":40,"w":5},{"p":"TP","k":"c","id":"t3","s":3,"v":0.2,"x":76,"y":57,"w":1},{"p":"TP","k":"c","id":"t3","s":4,"v":0.2,"x":89,"y":67,"w":1},
{"p":"TP","k":"c","id":"t4","s":1,"v":0.3,"x":86,"y":130,"w":2},{"p":"TP","k":"c","id":"t4","s":2,"v":0.3,"x":76,"y":140,"w":14},{"p":"TP","k":"c","id":"t4","s":3,"v":0.3,"x":66,"y":155,"w":12},
{"p":"TP","k":"c","id":"t5","s":1,"v":0.38,"x":151,"y":100,"w":14},{"p":"TP","k":"c","id":"t5","s":2,"v":0.38,"x":152,"y":113,"w":16},{"p":"TP","k":"c","id":"t5","s":3,"v":0.38,"x":156,"y":125,"w":6},
{"p":"TP","k":"c","id":"t6","s":1,"v":0.5,"x":116,"y":83,"w":3},{"p":"TP","k":"c","id":"t6","s":2,"v":0.5,"x":132,"y":53,"w":2},{"p":"TP","k":"c","id":"t6","s":3,"v":0.5,"x":134,"y":35,"w":1},
{"p":"TP","k":"c","id":"t7","s":1,"v":0.55,"x":79,"y":120,"w":2},{"p":"TP","k":"c","id":"t7","s":2,"v":0.55,"x":96,"y":107,"w":14},{"p":"TP","k":"c","id":"t7","s":3,"v":0.55,"x":109,"y":92,"w":18},{"p":"TP","k":"c","id":"t7","s":4,"v":0.55,"x":127,"y":83,"w":14},{"p":"TP","k":"c","id":"t7","s":5,"v":0.55,"x":139,"y":75,"w":3},
{"p":"TP","k":"c","id":"t8","s":1,"v":0.65,"x":136,"y":48,"w":2},{"p":"TP","k":"c","id":"t8","s":2,"v":0.65,"x":144,"y":58,"w":16},{"p":"TP","k":"c","id":"t8","s":3,"v":0.65,"x":156,"y":63,"w":6},
{"p":"TP","k":"c","id":"t9","s":1,"v":0.95,"x":59,"y":21,"w":1},{"p":"TP","k":"c","id":"t9","s":2,"v":0.95,"x":76,"y":18,"w":3},{"p":"TP","k":"c","id":"t9","s":3,"v":0.95,"x":89,"y":17,"w":4},{"p":"TP","k":"c","id":"t9","s":4,"v":0.95,"x":99,"y":17,"w":16},{"p":"TP","k":"c","id":"t9","s":5,"v":0.95,"x":107,"y":15,"w":22},{"p":"TP","k":"c","id":"t9","s":6,"v":0.95,"x":117,"y":5,"w":2},
{"p":"TP","k":"c","id":"t10","s":1,"v":0.95,"x":106,"y":20,"w":14},{"p":"TP","k":"c","id":"t10","s":2,"v":0.95,"x":104,"y":35,"w":1},
{"p":"TP","k":"c","id":"t11","s":1,"v":0.95,"x":36,"y":85,"w":1},{"p":"TP","k":"c","id":"t11","s":2,"v":0.95,"x":37,"y":102,"w":3},{"p":"TP","k":"c","id":"t11","s":3,"v":0.95,"x":39,"y":113,"w":16},{"p":"TP","k":"c","id":"t11","s":4,"v":0.95,"x":39,"y":120,"w":18},{"p":"TP","k":"c","id":"t11","s":5,"v":0.95,"x":34,"y":130,"w":2},{"p":"TP","k":"c","id":"t11","s":6,"v":0.7,"x":30,"y":140,"w":1},
{"p":"TP LPs","k":"c","id":"l1","s":1,"v":0.2,"x":5,"y":32,"w":3},{"p":"TP LPs","k":"c","id":"l1","s":2,"v":0.2,"x":22,"y":37,"w":6},{"p":"TP LPs","k":"c","id":"l1","s":3,"v":0.2,"x":42,"y":53,"w":1},
{"p":"TP LPs","k":"c","id":"l2","s":1,"v":0.25,"x":132,"y":10,"w":1},{"p":"TP LPs","k":"c","id":"l2","s":2,"v":0.25,"x":157,"y":15,"w":5},
{"p":"TP LPs","k":"c","id":"l3","s":1,"v":0.3,"x":52,"y":87,"w":2},{"p":"TP LPs","k":"c","id":"l3","s":2,"v":0.3,"x":55,"y":100,"w":12},{"p":"TP LPs","k":"c","id":"l3","s":3,"v":0.3,"x":57,"y":115,"w":1},
{"p":"TP LPs","k":"c","id":"l4","s":1,"v":0.3,"x":132,"y":100,"w":8},{"p":"TP LPs","k":"c","id":"l4","s":2,"v":0.3,"x":135,"y":110,"w":10},{"p":"TP LPs","k":"c","id":"l4","s":3,"v":0.3,"x":145,"y":123,"w":1},
{"p":"TP LPs","k":"c","id":"l5","s":1,"v":0.3,"x":2,"y":115,"w":1},{"p":"TP LPs","k":"c","id":"l5","s":2,"v":0.3,"x":35,"y":122,"w":3},
{"p":"TP LPs","k":"c","id":"l6","s":1,"v":0.42,"x":39,"y":85,"w":3},{"p":"TP LPs","k":"c","id":"l6","s":2,"v":0.42,"x":54,"y":77,"w":14},{"p":"TP LPs","k":"c","id":"l6","s":3,"v":0.42,"x":79,"y":67,"w":5},{"p":"TP LPs","k":"c","id":"l6","s":4,"v":0.42,"x":105,"y":62,"w":7},{"p":"TP LPs","k":"c","id":"l6","s":5,"v":0.42,"x":129,"y":60,"w":5},
{"p":"TP LPs","k":"c","id":"l7","s":1,"v":0.48,"x":0,"y":92,"w":14},{"p":"TP LPs","k":"c","id":"l7","s":2,"v":0.48,"x":12,"y":92,"w":12},{"p":"TP LPs","k":"c","id":"l7","s":3,"v":0.48,"x":30,"y":82,"w":14},
{"p":"TP LPs","k":"c","id":"l8","s":1,"v":0.75,"x":144,"y":75,"w":2},{"p":"TP LPs","k":"c","id":"l8","s":2,"v":0.75,"x":149,"y":85,"w":12},{"p":"TP LPs","k":"c","id":"l8","s":3,"v":0.75,"x":157,"y":97,"w":6},
{"p":"TP LPs","k":"c","id":"l9","s":1,"v":0.6,"x":2,"y":135,"w":1},{"p":"TP LPs","k":"c","id":"l9","s":2,"v":0.6,"x":35,"y":142,"w":2},{"p":"TP LPs","k":"c","id":"l9","s":3,"v":0.6,"x":52,"y":145,"w":14},{"p":"TP LPs","k":"c","id":"l9","s":4,"v":0.6,"x":69,"y":145,"w":3},{"p":"TP LPs","k":"c","id":"l9","s":5,"v":0.6,"x":105,"y":145,"w":2},
{"p":"TP LPs","k":"c","id":"l10","s":1,"v":0.85,"x":125,"y":137,"w":1},{"p":"TP LPs","k":"c","id":"l10","s":2,"v":0.85,"x":134,"y":157,"w":16},
{"p":"TP LPs","k":"c","id":"l11","s":1,"v":0.95,"x":69,"y":65,"w":1},{"p":"TP LPs","k":"c","id":"l11","s":2,"v":0.95,"x":80,"y":58,"w":8},{"p":"TP LPs","k":"c","id":"l11","s":3,"v":0.95,"x":89,"y":53,"w":18},{"p":"TP LPs","k":"c","id":"l11","s":4,"v":0.95,"x":99,"y":53,"w":12},{"p":"TP LPs","k":"c","id":"l11","s":5,"v":0.95,"x":107,"y":47,"w":3},{"p":"TP LPs","k":"c","id":"l11","s":6,"v":0.95,"x":130,"y":35,"w":2},{"p":"TP LPs","k":"c","id":"l11","s":7,"v":0.95,"x":142,"y":28,"w":8},{"p":"TP LPs","k":"c","id":"l11","s":8,"v":0.95,"x":155,"y":25,"w":14},
{"p":"SS-TP LPs","k":"c","id":"s1","s":1,"v":0.2,"x":15,"y":128,"w":18},{"p":"SS-TP LPs","k":"c","id":"s1","s":2,"v":0.2,"x":15,"y":138,"w":18},
{"p":"SS-TP LPs","k":"c","id":"s2","s":1,"v":0.22,"x":105,"y":1,"w":6},{"p":"SS-TP LPs","k":"c","id":"s2","s":2,"v":0.22,"x":118,"y":3,"w":5},
{"p":"SS-TP LPs","k":"c","id":"s3","s":1,"v":0.25,"x":75,"y":70,"w":2},{"p":"SS-TP LPs","k":"c","id":"s3","s":2,"v":0.25,"x":85,"y":82,"w":8},
{"p":"SS-TP LPs","k":"c","id":"s4","s":1,"v":0.5,"x":57,"y":133,"w":1},{"p":"SS-TP LPs","k":"c","id":"s4","s":2,"v":0.5,"x":62,"y":143,"w":4},
{"p":"SS-TP LPs","k":"c","id":"s5","s":1,"v":0.6,"x":132,"y":117,"w":6},{"p":"SS-TP LPs","k":"c","id":"s5","s":2,"v":0.6,"x":140,"y":130,"w":14},{"p":"SS-TP LPs","k":"c","id":"s5","s":3,"v":0.6,"x":143,"y":142,"w":3},
{"p":"SS-TP LPs","k":"c","id":"s6","s":1,"v":0.65,"x":138,"y":75,"w":2},{"p":"SS-TP LPs","k":"c","id":"s6","s":2,"v":0.65,"x":137,"y":83,"w":18},{"p":"SS-TP LPs","k":"c","id":"s6","s":3,"v":0.65,"x":128,"y":88,"w":8},
{"p":"SS-TP LPs","k":"c","id":"s7","s":1,"v":0.75,"x":8,"y":75,"w":4},{"p":"SS-TP LPs","k":"c","id":"s7","s":2,"v":0.75,"x":10,"y":92,"w":14},{"p":"SS-TP LPs","k":"c","id":"s7","s":3,"v":0.75,"x":7,"y":107,"w":12},
{"p":"SS-TP LPs","k":"c","id":"s8","s":1,"v":0.75,"x":15,"y":82,"w":1},{"p":"SS-TP LPs","k":"c","id":"s8","s":2,"v":0.75,"x":35,"y":67,"w":8},{"p":"SS-TP LPs","k":"c","id":"s8","s":3,"v":0.75,"x":48,"y":53,"w":28},{"p":"SS-TP LPs","k":"c","id":"s8","s":4,"v":0.75,"x":68,"y":47,"w":30},{"p":"SS-TP LPs","k":"c","id":"s8","s":5,"v":0.75,"x":92,"y":37,"w":12},
{"p":"SS-TP LPs","k":"c","id":"s9","s":1,"v":0.95,"x":10,"y":47,"w":12},{"p":"SS-TP LPs","k":"c","id":"s9","s":2,"v":0.95,"x":22,"y":53,"w":18},{"p":"SS-TP LPs","k":"c","id":"s9","s":3,"v":0.95,"x":33,"y":58,"w":12},
{"p":"SS-TP LPs","k":"c","id":"s10","s":1,"v":0.85,"x":100,"y":92,"w":10},{"p":"SS-TP LPs","k":"c","id":"s10","s":2,"v":0.85,"x":95,"y":110,"w":22},{"p":"SS-TP LPs","k":"c","id":"s10","s":3,"v":0.85,"x":82,"y":127,"w":2},
{"p":"SS-TP LPs","k":"c","id":"s11","s":1,"v":0.9,"x":108,"y":108,"w":6},{"p":"SS-TP LPs","k":"c","id":"s11","s":2,"v":0.9,"x":122,"y":107,"w":16},{"p":"SS-TP LPs","k":"c","id":"s11","s":3,"v":0.9,"x":133,"y":108,"w":6},
{"p":"SS-TP LPs","k":"c","id":"s12","s":1,"v":0.9,"x":145,"y":108,"w":20},{"p":"SS-TP LPs","k":"c","id":"s12","s":2,"v":0.9,"x":145,"y":112,"w":20},
{"p":"SS-TP LPs","k":"c","id":"s13","s":1,"v":0.85,"x":68,"y":88,"w":1},{"p":"SS-TP LPs","k":"c","id":"s13","s":2,"v":0.85,"x":77,"y":91,"w":6},{"p":"SS-TP LPs","k":"c","id":"s13","s":3,"v":0.85,"x":87,"y":95,"w":1},
{"p":"Control","k":"p","v":0.8,"x":93,"y":65,"w":12},{"p":"Control","k":"p","v":0.7,"x":133,"y":34,"w":12},{"p":"Control","k":"p","v":0.6,"x":144,"y":19,"w":14},{"p":"Control","k":"p","v":0.8,"x":146,"y":89,"w":14},{"p":"Control","k":"p","v":0.7,"x":63,"y":130,"w":8},{"p":"Control","k":"p","v":0.7,"x":7,"y":138,"w":8},{"p":"Control","k":"p","v":0.7,"x":77,"y":105,"w":6},{"p":"Control","k":"p","v":0.5,"x":103,"y":28,"w":5},{"p":"Control","k":"p","v":0.5,"x":98,"y":15,"w":4},{"p":"Control","k":"p","v":0.8,"x":63,"y":151,"w":8},{"p":"Control","k":"p","v":0.8,"x":83,"y":1,"w":14},{"p":"Control","k":"p","v":0.5,"x":98,"y":87,"w":4},{"p":"Control","k":"p","v":0.5,"x":84,"y":90,"w":4},{"p":"Control","k":"p","v":0.5,"x":142,"y":1,"w":8},{"p":"Control","k":"p","v":0.5,"x":140,"y":37,"w":5},{"p":"Control","k":"p","v":0.4,"x":144,"y":47,"w":5},
{"p":"TP","k":"p","v":0.8,"x":76,"y":147,"w":14},{"p":"TP","k":"p","v":0.7,"x":30,"y":66,"w":7},{"p":"TP","k":"p","v":0.45,"x":32,"y":34,"w":6},{"p":"TP","k":"p","v":0.6,"x":49,"y":42,"w":6},{"p":"TP","k":"p","v":0.8,"x":139,"y":67,"w":6},
{"p":"TP LPs","k":"p","v":0.85,"x":138,"y":59,"w":70},{"p":"TP LPs","k":"p","v":1,"x":33,"y":77,"w":40},{"p":"TP LPs","k":"p","v":0.8,"x":18,"y":35,"w":14},{"p":"TP LPs","k":"p","v":0.7,"x":57,"y":92,"w":6},
{"p":"SS-TP LPs","k":"p","v":0.9,"x":78,"y":72,"w":35},{"p":"SS-TP LPs","k":"p","v":0.8,"x":52,"y":91,"w":14},{"p":"SS-TP LPs","k":"p","v":0.8,"x":38,"y":133,"w":10},{"p":"SS-TP LPs","k":"p","v":0.7,"x":105,"y":136,"w":12},{"p":"SS-TP LPs","k":"p","v":0.8,"x":156,"y":130,"w":12},{"p":"SS-TP LPs","k":"p","v":0.8,"x":3,"y":88,"w":10}
  ]},
  "facet":{"field":"p","type":"nominal","sort":["Control","TP","TP LPs","SS-TP LPs"],"header":{"title":null,"labelFontSize":15,"labelFontWeight":"bold","labelColor":"#111","labelPadding":4}},
  "spec":{"width":157,"height":157,"view":{"fill":"#000000","stroke":"#bbbbbb","strokeWidth":1},
   "resolve":{"scale":{"size":"independent"}},
   "layer":[
   {"transform":[{"filter":"datum.k=='c'"}],"mark":{"type":"trail","clip":true,"opacity":0.3},
    "encoding":{"x":{"field":"x","type":"quantitative","scale":{"domain":[0,157],"nice":false},"axis":null},"y":{"field":"y","type":"quantitative","scale":{"domain":[157,0],"nice":false},"axis":null},"detail":{"field":"id"},"order":{"field":"s"},
     "size":{"field":"w","type":"quantitative","legend":null,"scale":{"domain":[0,100],"range":[3,106]}},
     "color":{"field":"v","type":"quantitative","legend":null,"scale":{"domain":[0,1],"range":["#000000","#22f522"]}}}},
   {"transform":[{"filter":"datum.k=='c'"}],"mark":{"type":"trail","clip":true},
    "encoding":{"x":{"field":"x","type":"quantitative"},"y":{"field":"y","type":"quantitative"},"detail":{"field":"id"},"order":{"field":"s"},
     "size":{"field":"w","type":"quantitative","legend":null,"scale":{"domain":[0,100],"range":[0,96]}},
     "color":{"field":"v","type":"quantitative"}}},
   {"transform":[{"filter":"datum.k=='p'"}],"mark":{"type":"circle","clip":true,"opacity":1},
    "encoding":{"x":{"field":"x","type":"quantitative"},"y":{"field":"y","type":"quantitative"},"size":{"field":"w","type":"quantitative","legend":null,"scale":{"domain":[0,100],"range":[0,100]}},"color":{"field":"v","type":"quantitative"}}},
   {"transform":[{"filter":"datum.k=='b'"}],"mark":{"type":"rule","color":"#ffffff","strokeWidth":1.3},"encoding":{"x":{"field":"x","type":"quantitative"},"x2":{"field":"x2"},"y":{"field":"y","type":"quantitative"}}},
   {"transform":[{"filter":"datum.k=='b'"}],"mark":{"type":"text","color":"#ffffff","fontSize":7,"fontWeight":"bold","align":"center","dx":10,"dy":-5},"encoding":{"x":{"field":"x","type":"quantitative"},"y":{"field":"y","type":"quantitative"},"text":{"field":"t"}}}
   ]}
 }
]},
{"width":1,"height":33,"data":{"values":[]},"mark":"point"},
{"bounds":"flush","resolve":{"scale":{"fill":"independent","stroke":"independent","color":"independent"}},"hconcat":[
 {"width":65,"height":1,"data":{"values":[]},"mark":"point"},
 {"width":253,"height":188,"data":{"name":"e"},
  "encoding":{"x":{"field":"g","type":"nominal","scale":{"domain":["Control","TP","TP LPs","SS-TP LPs"],"paddingInner":0.35,"paddingOuter":0.338},"axis":{"title":null,"labelFontSize":13,"labelPadding":6}}},
  "layer":[
  {"mark":{"type":"rule","strokeWidth":1.6},"encoding":{"y":{"field":"m","type":"quantitative"},"y2":{"field":"h"},"stroke":{"field":"g","type":"nominal","scale":{"domain":["Control","TP","TP LPs","SS-TP LPs"],"range":["#000000","#e06500","#005a00","#00007f"]},"legend":null}}},
  {"mark":{"type":"tick","size":19,"thickness":1.8},"encoding":{"y":{"field":"h","type":"quantitative"},"color":{"field":"g","type":"nominal","scale":{"domain":["Control","TP","TP LPs","SS-TP LPs"],"range":["#000000","#e06500","#005a00","#00007f"]},"legend":null}}},
  {"mark":{"type":"bar","strokeWidth":1.8},"encoding":{"y":{"field":"m","type":"quantitative","scale":{"domain":[0,25],"nice":false},"axis":{"values":[0,5,10,15,20,25],"title":"(Integrated Density)/Area","titleFontSize":16.5,"titlePadding":7,"labelFontSize":13.5}},
    "fill":{"field":"g","type":"nominal","scale":{"domain":["Control","TP","TP LPs","SS-TP LPs"],"range":["#ffffff","#e06500","#005a00","#00007f"]},"legend":null},
    "stroke":{"field":"g","type":"nominal","legend":null}}},
  {"transform":[{"filter":"datum.st!=''"}],"mark":{"type":"text","fontSize":11,"fontWeight":"bold","baseline":"bottom","dy":1,"color":"#222"},"encoding":{"y":{"field":"h","type":"quantitative"},"text":{"field":"st"}}},
  {"data":{"values":[{"t":"E"}]},"mark":{"type":"text","fontSize":20,"fontWeight":"bold","align":"left","dx":-102,"dy":-31,"color":"#000"},"encoding":{"x":{"datum":"Control"},"y":{"datum":25},"text":{"field":"t"}}}
  ]}
]},
{"width":1,"height":21,"data":{"values":[]},"mark":"point"},
{"bounds":"flush","resolve":{"scale":{"fill":"independent","stroke":"independent","color":"independent","size":"independent","opacity":"independent","xOffset":"independent"},"legend":{"fill":"independent","stroke":"independent"}},"hconcat":[
 {"width":79,"height":1,"data":{"values":[]},"mark":"point"},
 {"width":197,"height":235,
  "encoding":{"y":{"field":"r","type":"nominal","scale":{"domain":["Cyt C","Cleaved","Bax","Caspase 3","Bcl-2","actin"],"paddingInner":0.268,"paddingOuter":0},"axis":null}},
  "layer":[
  {"data":{"name":"boxes"},"mark":{"type":"rect","fill":"#efefef","stroke":"#222","strokeWidth":1.2},"encoding":{"x":{"datum":0,"scale":{"domain":[0,197],"nice":false},"axis":null},"x2":{"datum":197}}},
  {"data":{"name":"blots"},"mark":{"type":"bar","cornerRadius":4,"color":"#111","stroke":"#111","strokeOpacity":0.35,"strokeWidth":2.5},"encoding":{"x":{"field":"a","type":"quantitative"},"x2":{"field":"b"},"size":{"field":"t","type":"quantitative","legend":null,"scale":{"domain":[0,20],"range":[0,20]}},"opacity":{"field":"o","type":"quantitative","legend":null,"scale":{"domain":[0,1],"range":[0,1]}}}},
  {"data":{"name":"boxes"},"mark":{"type":"text","fontSize":12.5,"fontWeight":"bold","align":"right","dx":-5,"lineBreak":"|","color":"#222"},"encoding":{"x":{"datum":0},"text":{"field":"label"}}},
  {"data":{"name":"boxes"},"mark":{"type":"text","fontSize":13,"fontWeight":"bold","align":"left","dx":6,"color":"#222"},"encoding":{"x":{"datum":197},"text":{"field":"kda"}}},
  {"data":{"values":[{"r":"Cyt C","t":"Control","x":20},{"r":"Cyt C","t":"TP","x":65},{"r":"Cyt C","t":"TP LPs","x":107},{"r":"Cyt C","t":"SS-TP LPs","x":169}]},"mark":{"type":"text","fontSize":12.5,"fontWeight":"bold","dy":-25,"color":"#111"},"encoding":{"x":{"field":"x","type":"quantitative"},"text":{"field":"t"}}},
  {"data":{"values":[{"r":"Cyt C","t":"F"}]},"mark":{"type":"text","fontSize":20,"fontWeight":"bold","align":"left","dx":-77,"dy":-46,"color":"#000"},"encoding":{"x":{"datum":0},"text":{"field":"t"}}}
  ]},
 {"width":128,"height":1,"data":{"values":[]},"mark":"point"},
 {"bounds":"flush","resolve":{"scale":{"fill":"independent","stroke":"independent","xOffset":"independent"},"legend":{"fill":"independent","stroke":"independent"}},"vconcat":[
  {"width":1,"height":15,"data":{"values":[]},"mark":"point"},
  {"width":219,"height":139,"data":{"name":"g"},
   "encoding":{"x":{"field":"c","type":"nominal","scale":{"domain":["Bcl2","Caspase 3","Bax","Cleaved Caspase 3","Cyt C"],"paddingInner":0.19,"paddingOuter":0.2},"axis":{"title":null,"labelFontSize":11,"labelAngle":-45,"labelAlign":"right","labelBaseline":"middle","labelPadding":4}},
    "xOffset":{"field":"g","type":"nominal","scale":{"domain":["Control","TP","TP LPs","SS-TP LPs"],"paddingInner":0.13}}},
   "layer":[
   {"mark":{"type":"bar","strokeWidth":0.9},"encoding":{"y":{"field":"m","type":"quantitative","scale":{"domain":[0,3],"nice":false},"axis":{"values":[0,0.5,1,1.5,2,2.5,3],"format":".1f","title":["Relative protein expression","level"],"titleFontSize":14.4,"titleFontWeight":"normal","titlePadding":4,"titleLineHeight":17,"labelFontSize":11}},
     "fill":{"field":"g","type":"nominal","scale":{"domain":["Control","TP","TP LPs","SS-TP LPs"],"range":["#ffffff","#e06500","#005a00","#00007f"]},"legend":{"orient":"none","legendX":17,"legendY":-18,"title":null,"symbolType":"M-1.4,-0.75H1.4V0.75H-1.4Z","symbolSize":150,"labelFontSize":12,"labelFontWeight":"normal","labelOffset":11,"rowPadding":-1.6,"labelColor":"#222","symbolStrokeWidth":1}},
     "stroke":{"field":"g","type":"nominal","scale":{"domain":["Control","TP","TP LPs","SS-TP LPs"],"range":["#777777","#e06500","#005a00","#00007f"]},"legend":{"orient":"none","legendX":17,"legendY":-18,"title":null,"symbolType":"M-1.4,-0.75H1.4V0.75H-1.4Z","symbolSize":150,"labelFontSize":12,"labelFontWeight":"normal","labelOffset":11,"rowPadding":-1.6,"labelColor":"#222","symbolStrokeWidth":1}}}},
   {"transform":[{"filter":"datum.g!='Control'"}],"mark":{"type":"rule","color":"#333","strokeWidth":0.8},"encoding":{"y":{"field":"l","type":"quantitative"},"y2":{"field":"h"}}},
   {"transform":[{"filter":"datum.g!='Control'"}],"mark":{"type":"tick","color":"#333","size":3,"thickness":0.7},"encoding":{"y":{"field":"h","type":"quantitative"}}},
   {"transform":[{"filter":"datum.g!='Control'"}],"mark":{"type":"tick","color":"#333","size":3,"thickness":0.7},"encoding":{"y":{"field":"l","type":"quantitative"}}},
   {"transform":[{"filter":"datum.st!=''"}],"mark":{"type":"text","fontSize":11,"fontWeight":"bold","angle":270,"align":"left","baseline":"middle","dy":-2,"dx":2,"color":"#222"},"encoding":{"y":{"field":"h","type":"quantitative"},"text":{"field":"st"}}},
   {"data":{"values":[{"t":"G"}]},"mark":{"type":"text","fontSize":20,"fontWeight":"bold","align":"left","dx":-71,"dy":-48,"color":"#000"},"encoding":{"xOffset":{"value":0},"x":{"datum":"Bcl2"},"y":{"datum":3},"text":{"field":"t"}}}
   ]}
 ]}
]}
]}
